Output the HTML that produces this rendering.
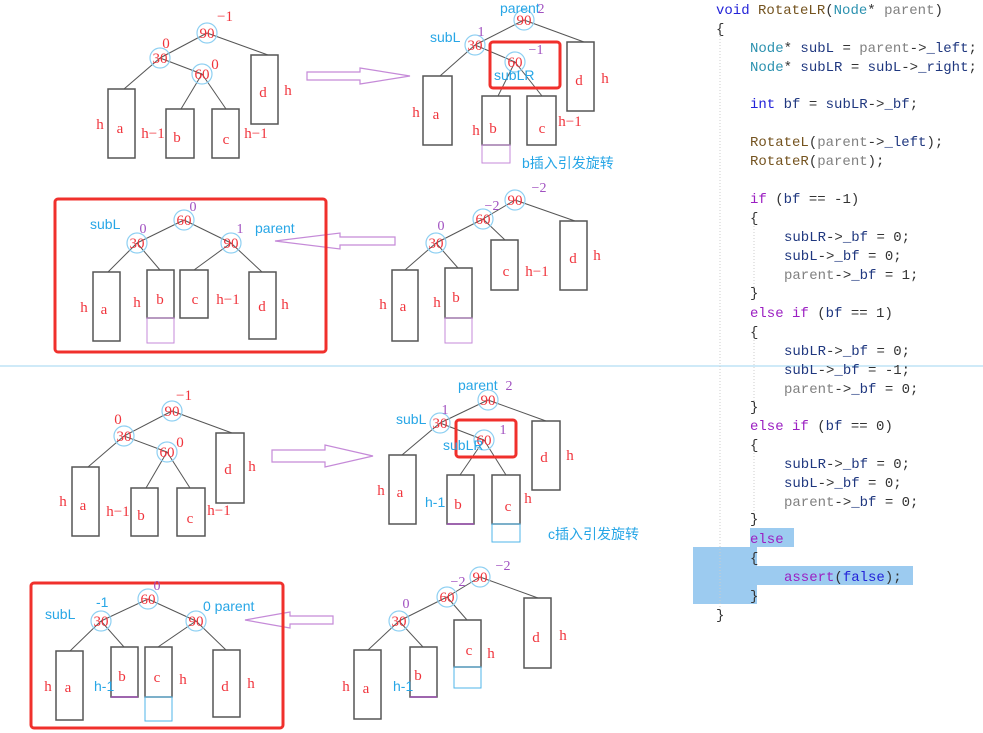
<!DOCTYPE html>
<html><head><meta charset="utf-8"><style>
html,body{margin:0;padding:0;background:#fff;}
svg{display:block;}
.n{font:15px "Liberation Serif",serif;fill:#f0343c;text-anchor:middle;}
.l{font:15px "Liberation Serif",serif;fill:#f0343c;text-anchor:middle;}
.p{font:14px "Liberation Serif",serif;fill:#a050c0;text-anchor:middle;}
.b{font:14px "Liberation Sans","Noto Sans CJK SC",sans-serif;fill:#27a6e6;}
.c{fill:none;stroke:#8fd0f2;stroke-width:1.2;}
.e{stroke:#555;stroke-width:1;}
.bx{fill:#fff;stroke:#555;stroke-width:1.5;}
.code{font:14px "Liberation Mono",monospace;fill:#1f377f;white-space:pre;}
.kw{fill:#2323d8}.ct{fill:#9b1fc2}.fn{fill:#74531f}.ty{fill:#2b91af}.pa{fill:#808080}.op{fill:#333}
</style></head><body>
<svg width="983" height="733" viewBox="0 0 983 733" xmlns="http://www.w3.org/2000/svg">
<!-- separator -->
<line x1="0" y1="366" x2="983" y2="366" stroke="#9fd6f0" stroke-width="1"/>
<!-- code highlight -->
<path d="M750 528H794V547H757V566H913V585H757V604H693V547H750Z" fill="#9ccbf0"/>
<line x1="720" y1="30" x2="720" y2="610" stroke="#ccc" stroke-dasharray="1,2"/>
<line x1="754" y1="220" x2="754" y2="290" stroke="#ccc" stroke-dasharray="1,2"/>
<line x1="754" y1="334" x2="754" y2="404" stroke="#ccc" stroke-dasharray="1,2"/>
<line x1="754" y1="447" x2="754" y2="516" stroke="#ccc" stroke-dasharray="1,2"/>
<g class="code">
<text x="716" y="14"><tspan class="kw">void</tspan> <tspan class="fn">RotateLR</tspan><tspan class="op">(</tspan><tspan class="ty">Node</tspan><tspan class="op">*</tspan> <tspan class="pa">parent</tspan><tspan class="op">)</tspan></text>
<text x="716" y="33" class="op">{</text>
<text x="750" y="52"><tspan class="ty">Node</tspan><tspan class="op">*</tspan> subL <tspan class="op">=</tspan> <tspan class="pa">parent</tspan><tspan class="op">-&gt;</tspan>_left<tspan class="op">;</tspan></text>
<text x="750" y="71"><tspan class="ty">Node</tspan><tspan class="op">*</tspan> subLR <tspan class="op">=</tspan> subL<tspan class="op">-&gt;</tspan>_right<tspan class="op">;</tspan></text>
<text x="750" y="108"><tspan class="kw">int</tspan> bf <tspan class="op">=</tspan> subLR<tspan class="op">-&gt;</tspan>_bf<tspan class="op">;</tspan></text>
<text x="750" y="146"><tspan class="fn">RotateL</tspan><tspan class="op">(</tspan><tspan class="pa">parent</tspan><tspan class="op">-&gt;</tspan>_left<tspan class="op">);</tspan></text>
<text x="750" y="165"><tspan class="fn">RotateR</tspan><tspan class="op">(</tspan><tspan class="pa">parent</tspan><tspan class="op">);</tspan></text>
<text x="750" y="203"><tspan class="ct">if</tspan> <tspan class="op">(</tspan>bf <tspan class="op">== -1)</tspan></text>
<text x="750" y="222" class="op">{</text>
<text x="784" y="241">subLR<tspan class="op">-&gt;</tspan>_bf <tspan class="op">= 0;</tspan></text>
<text x="784" y="260">subL<tspan class="op">-&gt;</tspan>_bf <tspan class="op">= 0;</tspan></text>
<text x="784" y="279"><tspan class="pa">parent</tspan><tspan class="op">-&gt;</tspan>_bf <tspan class="op">= 1;</tspan></text>
<text x="750" y="297" class="op">}</text>
<text x="750" y="317"><tspan class="ct">else if</tspan> <tspan class="op">(</tspan>bf <tspan class="op">== 1)</tspan></text>
<text x="750" y="336" class="op">{</text>
<text x="784" y="355">subLR<tspan class="op">-&gt;</tspan>_bf <tspan class="op">= 0;</tspan></text>
<text x="784" y="374">subL<tspan class="op">-&gt;</tspan>_bf <tspan class="op">= -1;</tspan></text>
<text x="784" y="393"><tspan class="pa">parent</tspan><tspan class="op">-&gt;</tspan>_bf <tspan class="op">= 0;</tspan></text>
<text x="750" y="411" class="op">}</text>
<text x="750" y="430"><tspan class="ct">else if</tspan> <tspan class="op">(</tspan>bf <tspan class="op">== 0)</tspan></text>
<text x="750" y="449" class="op">{</text>
<text x="784" y="468">subLR<tspan class="op">-&gt;</tspan>_bf <tspan class="op">= 0;</tspan></text>
<text x="784" y="487">subL<tspan class="op">-&gt;</tspan>_bf <tspan class="op">= 0;</tspan></text>
<text x="784" y="506"><tspan class="pa">parent</tspan><tspan class="op">-&gt;</tspan>_bf <tspan class="op">= 0;</tspan></text>
<text x="750" y="523" class="op">}</text>
<text x="750" y="543" class="ct">else</text>
<text x="750" y="562" class="op">{</text>
<text x="784" y="581"><tspan class="ct">assert</tspan><tspan class="op">(</tspan><tspan class="kw">false</tspan><tspan class="op">);</tspan></text>
<text x="750" y="600" class="op">}</text>
<text x="716" y="619" class="op">}</text>
</g>

<!-- arrows -->
<g fill="#fff" stroke="#c58ad8" stroke-width="1.2">
<path d="M307 72H360V68L410 76L360 84V80H307Z"/>
<path d="M395 237H340V233L275 241L340 249V245H395Z"/>
<path d="M272 450H325V445L373 456L325 467V462H272Z"/>
<path d="M333 616H290V612L245 620L290 628V624H333Z"/>
</g>

<!-- ===== Tree 1 ===== -->
<g>
<line class="e" x1="207" y1="33" x2="160" y2="58"/><line class="e" x1="207" y1="33" x2="268" y2="55"/>
<line class="e" x1="160" y1="58" x2="124" y2="89"/><line class="e" x1="160" y1="58" x2="202" y2="74"/>
<line class="e" x1="202" y1="74" x2="181" y2="109"/><line class="e" x1="202" y1="74" x2="226" y2="109"/>
<rect class="bx" x="108" y="89" width="27" height="69"/><rect class="bx" x="166" y="109" width="28" height="49"/>
<rect class="bx" x="212" y="109" width="27" height="49"/><rect class="bx" x="251" y="55" width="27" height="69"/>
<circle class="c" cx="207" cy="33" r="10"/><circle class="c" cx="160" cy="58" r="10"/><circle class="c" cx="202" cy="74" r="10"/>
<text class="n" x="207" y="38">90</text><text class="n" x="160" y="63">30</text><text class="n" x="202" y="79">60</text>
<text class="l" x="225" y="21">−1</text><text class="l" x="166" y="48">0</text><text class="l" x="215" y="69">0</text>
<text class="l" x="100" y="129">h</text><text class="l" x="120" y="133">a</text><text class="l" x="153" y="138">h−1</text>
<text class="l" x="177" y="142">b</text><text class="l" x="226" y="144">c</text><text class="l" x="256" y="138">h−1</text>
<text class="l" x="263" y="97">d</text><text class="l" x="288" y="95">h</text>
</g>

<!-- ===== Tree 2 ===== -->
<g>
<line class="e" x1="524" y1="20" x2="475" y2="45"/><line class="e" x1="524" y1="20" x2="584" y2="42"/>
<line class="e" x1="475" y1="45" x2="440" y2="76"/><line class="e" x1="475" y1="45" x2="515" y2="62"/>
<line class="e" x1="515" y1="62" x2="498" y2="96"/><line class="e" x1="515" y1="62" x2="542" y2="96"/>
<rect class="bx" x="423" y="76" width="29" height="69"/><rect class="bx" x="482" y="96" width="28" height="49"/>
<rect x="482" y="145" width="28" height="18" fill="none" stroke="#c58ad8"/>
<rect class="bx" x="527" y="96" width="29" height="49"/><rect class="bx" x="567" y="42" width="27" height="69"/>
<circle class="c" cx="524" cy="20" r="10"/><circle class="c" cx="475" cy="45" r="10"/><circle class="c" cx="515" cy="62" r="10"/>
<text class="n" x="524" y="25">90</text><text class="n" x="475" y="50">30</text><text class="n" x="515" y="67">60</text>
<rect x="490" y="42" width="70" height="46" rx="3" fill="none" stroke="#f0302c" stroke-width="3"/>
<text class="b" x="500" y="13" font-size="15">parent</text><text class="p" x="541" y="13">2</text>
<text class="b" x="430" y="42" font-size="15">subL</text><text class="p" x="481" y="36">1</text>
<text class="p" x="536" y="54">−1</text><text class="b" x="494" y="80" font-size="15">subLR</text>
<text class="l" x="416" y="117">h</text><text class="l" x="436" y="119">a</text><text class="l" x="476" y="135">h</text>
<text class="l" x="493" y="133">b</text><text class="l" x="542" y="133">c</text><text class="l" x="570" y="126">h−1</text>
<text class="l" x="579" y="85">d</text><text class="l" x="605" y="83">h</text>
<text class="b" x="522" y="168">b插入引发旋转</text>
</g>

<!-- ===== Tree 3 (row2 left, red box) ===== -->
<g>
<rect x="55" y="199" width="271" height="153" rx="3" fill="none" stroke="#f0302c" stroke-width="3"/>
<line class="e" x1="184" y1="220" x2="137" y2="243"/><line class="e" x1="184" y1="220" x2="231" y2="243"/>
<line class="e" x1="137" y1="243" x2="108" y2="272"/><line class="e" x1="137" y1="243" x2="160" y2="270"/>
<line class="e" x1="231" y1="243" x2="194" y2="270"/><line class="e" x1="231" y1="243" x2="262" y2="272"/>
<rect class="bx" x="93" y="272" width="27" height="69"/><rect class="bx" x="147" y="270" width="27" height="48"/>
<rect x="147" y="318" width="27" height="25" fill="none" stroke="#c58ad8"/>
<rect class="bx" x="180" y="270" width="28" height="48"/><rect class="bx" x="249" y="272" width="27" height="67"/>
<circle class="c" cx="184" cy="220" r="10"/><circle class="c" cx="137" cy="243" r="10"/><circle class="c" cx="231" cy="243" r="10"/>
<text class="n" x="184" y="225">60</text><text class="n" x="137" y="248">30</text><text class="n" x="231" y="248">90</text>
<text class="p" x="193" y="211">0</text><text class="p" x="143" y="233">0</text><text class="p" x="240" y="233">1</text>
<text class="b" x="90" y="229" font-size="15">subL</text><text class="b" x="255" y="233" font-size="15">parent</text>
<text class="l" x="84" y="312">h</text><text class="l" x="104" y="314">a</text><text class="l" x="137" y="307">h</text>
<text class="l" x="160" y="304">b</text><text class="l" x="195" y="304">c</text><text class="l" x="228" y="304">h−1</text>
<text class="l" x="262" y="311">d</text><text class="l" x="285" y="309">h</text>
</g>

<!-- ===== Tree 4 (row2 right) ===== -->
<g>
<line class="e" x1="515" y1="200" x2="483" y2="219"/><line class="e" x1="515" y1="200" x2="575" y2="221"/>
<line class="e" x1="483" y1="219" x2="436" y2="243"/><line class="e" x1="483" y1="219" x2="505" y2="240"/>
<line class="e" x1="436" y1="243" x2="405" y2="270"/><line class="e" x1="436" y1="243" x2="458" y2="268"/>
<rect class="bx" x="392" y="270" width="26" height="71"/><rect class="bx" x="445" y="268" width="27" height="50"/>
<rect x="445" y="318" width="27" height="25" fill="none" stroke="#c58ad8"/>
<rect class="bx" x="491" y="240" width="27" height="50"/><rect class="bx" x="560" y="221" width="27" height="69"/>
<circle class="c" cx="515" cy="200" r="10"/><circle class="c" cx="483" cy="219" r="10"/><circle class="c" cx="436" cy="243" r="10"/>
<text class="n" x="515" y="205">90</text><text class="n" x="483" y="224">60</text><text class="n" x="436" y="248">30</text>
<text class="p" x="539" y="192">−2</text><text class="p" x="492" y="210">−2</text><text class="p" x="441" y="230">0</text>
<text class="l" x="383" y="309">h</text><text class="l" x="403" y="311">a</text><text class="l" x="437" y="307">h</text>
<text class="l" x="456" y="302">b</text><text class="l" x="506" y="276">c</text><text class="l" x="537" y="276">h−1</text>
<text class="l" x="573" y="263">d</text><text class="l" x="597" y="260">h</text>
</g>

<!-- ===== Tree 5 (row3 left) ===== -->
<g>
<line class="e" x1="172" y1="411" x2="124" y2="436"/><line class="e" x1="172" y1="411" x2="232" y2="433"/>
<line class="e" x1="124" y1="436" x2="88" y2="467"/><line class="e" x1="124" y1="436" x2="167" y2="452"/>
<line class="e" x1="167" y1="452" x2="146" y2="488"/><line class="e" x1="167" y1="452" x2="190" y2="488"/>
<rect class="bx" x="72" y="467" width="27" height="69"/><rect class="bx" x="131" y="488" width="27" height="48"/>
<rect class="bx" x="177" y="488" width="28" height="48"/><rect class="bx" x="216" y="433" width="28" height="70"/>
<circle class="c" cx="172" cy="411" r="10"/><circle class="c" cx="124" cy="436" r="10"/><circle class="c" cx="167" cy="452" r="10"/>
<text class="n" x="172" y="416">90</text><text class="n" x="124" y="441">30</text><text class="n" x="167" y="457">60</text>
<text class="l" x="184" y="400">−1</text><text class="l" x="118" y="424">0</text><text class="l" x="180" y="447">0</text>
<text class="l" x="63" y="506">h</text><text class="l" x="83" y="510">a</text><text class="l" x="118" y="516">h−1</text>
<text class="l" x="141" y="520">b</text><text class="l" x="190" y="523">c</text><text class="l" x="219" y="515">h−1</text>
<text class="l" x="228" y="474">d</text><text class="l" x="252" y="471">h</text>
</g>

<!-- ===== Tree 6 (row3 right) ===== -->
<g>
<line class="e" x1="488" y1="400" x2="440" y2="423"/><line class="e" x1="488" y1="400" x2="546" y2="421"/>
<line class="e" x1="440" y1="423" x2="402" y2="455"/><line class="e" x1="440" y1="423" x2="484" y2="440"/>
<line class="e" x1="484" y1="440" x2="460" y2="475"/><line class="e" x1="484" y1="440" x2="506" y2="475"/>
<rect class="bx" x="389" y="455" width="27" height="69"/><rect class="bx" x="447" y="475" width="27" height="49"/>
<line x1="447" y1="524" x2="474" y2="524" stroke="#9a4fb0" stroke-width="1.5"/>
<rect class="bx" x="492" y="475" width="28" height="49"/>
<rect x="492" y="524" width="28" height="18" fill="none" stroke="#4fb6ea"/>
<rect class="bx" x="532" y="421" width="28" height="69"/>
<circle class="c" cx="488" cy="400" r="10"/><circle class="c" cx="440" cy="423" r="10"/><circle class="c" cx="484" cy="440" r="10"/>
<text class="n" x="488" y="405">90</text><text class="n" x="440" y="428">30</text><text class="n" x="484" y="445">60</text>
<rect x="456" y="420" width="60" height="37" rx="3" fill="none" stroke="#f0302c" stroke-width="3"/>
<text class="b" x="458" y="390" font-size="15">parent</text><text class="p" x="509" y="390">2</text>
<text class="b" x="396" y="424" font-size="15">subL</text><text class="p" x="445" y="414">1</text>
<text class="b" x="443" y="450" font-size="15">subLR</text><text class="p" x="503" y="434">1</text>
<text class="l" x="381" y="495">h</text><text class="l" x="400" y="497">a</text>
<text class="b" x="425" y="507" font-size="15">h-1</text><text class="l" x="458" y="509">b</text>
<text class="l" x="508" y="511">c</text><text class="l" x="528" y="503">h</text>
<text class="l" x="544" y="462">d</text><text class="l" x="570" y="460">h</text>
<text class="b" x="548" y="539">c插入引发旋转</text>
</g>

<!-- ===== Tree 7 (row4 left, red box) ===== -->
<g>
<rect x="31" y="583" width="252" height="145" rx="3" fill="none" stroke="#f0302c" stroke-width="3"/>
<line class="e" x1="148" y1="599" x2="101" y2="621"/><line class="e" x1="148" y1="599" x2="196" y2="621"/>
<line class="e" x1="101" y1="621" x2="70" y2="651"/><line class="e" x1="101" y1="621" x2="124" y2="647"/>
<line class="e" x1="196" y1="621" x2="158" y2="647"/><line class="e" x1="196" y1="621" x2="226" y2="650"/>
<rect class="bx" x="56" y="651" width="27" height="69"/><rect class="bx" x="111" y="647" width="27" height="50"/>
<line x1="111" y1="697" x2="138" y2="697" stroke="#9a4fb0" stroke-width="1.5"/>
<rect class="bx" x="145" y="647" width="27" height="50"/>
<rect x="145" y="697" width="27" height="24" fill="none" stroke="#4fb6ea"/>
<rect class="bx" x="213" y="650" width="27" height="67"/>
<circle class="c" cx="148" cy="599" r="10"/><circle class="c" cx="101" cy="621" r="10"/><circle class="c" cx="196" cy="621" r="10"/>
<text class="n" x="148" y="604">60</text><text class="n" x="101" y="626">30</text><text class="n" x="196" y="626">90</text>
<text class="p" x="157" y="590">0</text>
<text class="b" x="96" y="607" font-size="15">-1</text><text class="b" x="45" y="619" font-size="15">subL</text>
<text class="b" x="203" y="611" font-size="15">0 parent</text>
<text class="l" x="48" y="691">h</text><text class="l" x="68" y="692">a</text>
<text class="b" x="94" y="691" font-size="15">h-1</text><text class="l" x="122" y="681">b</text>
<text class="l" x="157" y="682">c</text><text class="l" x="183" y="684">h</text>
<text class="l" x="225" y="691">d</text><text class="l" x="251" y="688">h</text>
</g>

<!-- ===== Tree 8 (row4 right) ===== -->
<g>
<line class="e" x1="480" y1="577" x2="447" y2="597"/><line class="e" x1="480" y1="577" x2="538" y2="598"/>
<line class="e" x1="447" y1="597" x2="399" y2="621"/><line class="e" x1="447" y1="597" x2="467" y2="620"/>
<line class="e" x1="399" y1="621" x2="368" y2="650"/><line class="e" x1="399" y1="621" x2="423" y2="647"/>
<rect class="bx" x="354" y="650" width="27" height="69"/><rect class="bx" x="410" y="647" width="27" height="50"/>
<line x1="410" y1="697" x2="437" y2="697" stroke="#9a4fb0" stroke-width="1.5"/>
<rect class="bx" x="454" y="620" width="27" height="47"/>
<rect x="454" y="667" width="27" height="21" fill="none" stroke="#4fb6ea"/>
<rect class="bx" x="524" y="598" width="27" height="70"/>
<circle class="c" cx="480" cy="577" r="10"/><circle class="c" cx="447" cy="597" r="10"/><circle class="c" cx="399" cy="621" r="10"/>
<text class="n" x="480" y="582">90</text><text class="n" x="447" y="602">60</text><text class="n" x="399" y="626">30</text>
<text class="p" x="503" y="570">−2</text><text class="p" x="458" y="586">−2</text><text class="p" x="406" y="608">0</text>
<text class="l" x="346" y="691">h</text><text class="l" x="366" y="693">a</text>
<text class="b" x="393" y="691" font-size="15">h-1</text><text class="l" x="418" y="680">b</text>
<text class="l" x="469" y="655">c</text><text class="l" x="491" y="658">h</text>
<text class="l" x="536" y="642">d</text><text class="l" x="563" y="640">h</text>
</g>
</svg>
</body></html>
